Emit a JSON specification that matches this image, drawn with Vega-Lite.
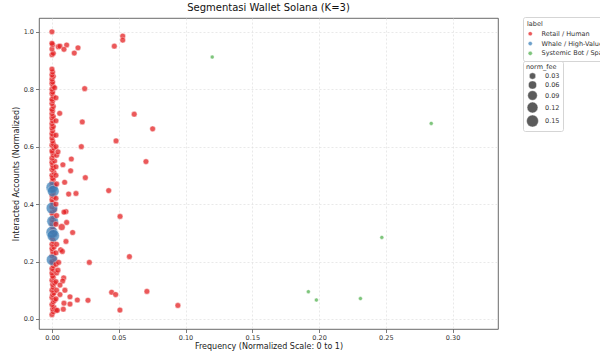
{
  "$schema": "https://vega.github.io/schema/vega-lite/v6.json",
  "width": 459,
  "height": 311,
  "autosize": {"type": "none"},
  "padding": {"left": 39, "top": 18, "right": 102, "bottom": 24},
  "background": "white",
  "title": {"text": "Segmentasi Wallet Solana (K=3)", "fontSize": 10, "fontWeight": "normal", "color": "#111", "offset": 4},
  "config": {
    "font": "DejaVu Sans",
    "view": {"stroke": "#444", "strokeWidth": 0.8},
    "axis": {"labelFontSize": 6.5, "titleFontSize": 8, "titleFontWeight": "normal", "labelColor": "#333", "titleColor": "#222", "gridColor": "#e0e0e0", "gridDash": [2, 2], "gridWidth": 0.7, "tickColor": "#444", "tickSize": 3.5, "tickWidth": 0.7, "domain": false, "labelPadding": 2}
  },
  "data": {"values": [
    {"freq": 0.0, "acc": 0.015, "label": "Retail / Human", "norm_fee": 0.02},
    {"freq": 0.001, "acc": 0.025, "label": "Retail / Human", "norm_fee": 0.02},
    {"freq": 0.0005, "acc": 0.035, "label": "Retail / Human", "norm_fee": 0.02},
    {"freq": 0.0015, "acc": 0.04, "label": "Retail / Human", "norm_fee": 0.02},
    {"freq": 0.0, "acc": 0.05, "label": "Retail / Human", "norm_fee": 0.02},
    {"freq": 0.001, "acc": 0.06, "label": "Retail / Human", "norm_fee": 0.02},
    {"freq": 0.002, "acc": 0.065, "label": "Retail / Human", "norm_fee": 0.02},
    {"freq": 0.0, "acc": 0.075, "label": "Retail / Human", "norm_fee": 0.02},
    {"freq": 0.0005, "acc": 0.085, "label": "Retail / Human", "norm_fee": 0.02},
    {"freq": 0.0015, "acc": 0.09, "label": "Retail / Human", "norm_fee": 0.02},
    {"freq": 0.0, "acc": 0.1, "label": "Retail / Human", "norm_fee": 0.02},
    {"freq": 0.001, "acc": 0.11, "label": "Retail / Human", "norm_fee": 0.02},
    {"freq": 0.0005, "acc": 0.12, "label": "Retail / Human", "norm_fee": 0.02},
    {"freq": 0.002, "acc": 0.125, "label": "Retail / Human", "norm_fee": 0.02},
    {"freq": 0.0, "acc": 0.135, "label": "Retail / Human", "norm_fee": 0.02},
    {"freq": 0.001, "acc": 0.145, "label": "Retail / Human", "norm_fee": 0.02},
    {"freq": 0.0005, "acc": 0.15, "label": "Retail / Human", "norm_fee": 0.02},
    {"freq": 0.0, "acc": 0.16, "label": "Retail / Human", "norm_fee": 0.02},
    {"freq": 0.0015, "acc": 0.17, "label": "Retail / Human", "norm_fee": 0.02},
    {"freq": 0.0, "acc": 0.175, "label": "Retail / Human", "norm_fee": 0.02},
    {"freq": 0.001, "acc": 0.185, "label": "Retail / Human", "norm_fee": 0.02},
    {"freq": 0.0005, "acc": 0.195, "label": "Retail / Human", "norm_fee": 0.02},
    {"freq": 0.0, "acc": 0.2, "label": "Retail / Human", "norm_fee": 0.02},
    {"freq": 0.002, "acc": 0.21, "label": "Retail / Human", "norm_fee": 0.02},
    {"freq": 0.0, "acc": 0.22, "label": "Retail / Human", "norm_fee": 0.02},
    {"freq": 0.001, "acc": 0.225, "label": "Retail / Human", "norm_fee": 0.02},
    {"freq": 0.0005, "acc": 0.235, "label": "Retail / Human", "norm_fee": 0.02},
    {"freq": 0.0, "acc": 0.245, "label": "Retail / Human", "norm_fee": 0.02},
    {"freq": 0.0015, "acc": 0.25, "label": "Retail / Human", "norm_fee": 0.02},
    {"freq": 0.0, "acc": 0.26, "label": "Retail / Human", "norm_fee": 0.02},
    {"freq": 0.001, "acc": 0.27, "label": "Retail / Human", "norm_fee": 0.02},
    {"freq": 0.0005, "acc": 0.28, "label": "Retail / Human", "norm_fee": 0.02},
    {"freq": 0.0, "acc": 0.285, "label": "Retail / Human", "norm_fee": 0.02},
    {"freq": 0.002, "acc": 0.295, "label": "Retail / Human", "norm_fee": 0.02},
    {"freq": 0.0, "acc": 0.305, "label": "Retail / Human", "norm_fee": 0.02},
    {"freq": 0.001, "acc": 0.31, "label": "Retail / Human", "norm_fee": 0.02},
    {"freq": 0.0005, "acc": 0.32, "label": "Retail / Human", "norm_fee": 0.02},
    {"freq": 0.0, "acc": 0.33, "label": "Retail / Human", "norm_fee": 0.02},
    {"freq": 0.0015, "acc": 0.34, "label": "Retail / Human", "norm_fee": 0.02},
    {"freq": 0.0, "acc": 0.345, "label": "Retail / Human", "norm_fee": 0.02},
    {"freq": 0.001, "acc": 0.355, "label": "Retail / Human", "norm_fee": 0.02},
    {"freq": 0.0005, "acc": 0.365, "label": "Retail / Human", "norm_fee": 0.02},
    {"freq": 0.0, "acc": 0.37, "label": "Retail / Human", "norm_fee": 0.02},
    {"freq": 0.002, "acc": 0.38, "label": "Retail / Human", "norm_fee": 0.02},
    {"freq": 0.0, "acc": 0.39, "label": "Retail / Human", "norm_fee": 0.02},
    {"freq": 0.001, "acc": 0.4, "label": "Retail / Human", "norm_fee": 0.02},
    {"freq": 0.0005, "acc": 0.405, "label": "Retail / Human", "norm_fee": 0.02},
    {"freq": 0.0, "acc": 0.415, "label": "Retail / Human", "norm_fee": 0.02},
    {"freq": 0.0015, "acc": 0.425, "label": "Retail / Human", "norm_fee": 0.02},
    {"freq": 0.0, "acc": 0.43, "label": "Retail / Human", "norm_fee": 0.02},
    {"freq": 0.001, "acc": 0.44, "label": "Retail / Human", "norm_fee": 0.02},
    {"freq": 0.0005, "acc": 0.45, "label": "Retail / Human", "norm_fee": 0.02},
    {"freq": 0.0, "acc": 0.46, "label": "Retail / Human", "norm_fee": 0.02},
    {"freq": 0.002, "acc": 0.465, "label": "Retail / Human", "norm_fee": 0.02},
    {"freq": 0.0, "acc": 0.475, "label": "Retail / Human", "norm_fee": 0.02},
    {"freq": 0.001, "acc": 0.485, "label": "Retail / Human", "norm_fee": 0.02},
    {"freq": 0.0005, "acc": 0.49, "label": "Retail / Human", "norm_fee": 0.02},
    {"freq": 0.0, "acc": 0.5, "label": "Retail / Human", "norm_fee": 0.02},
    {"freq": 0.0015, "acc": 0.51, "label": "Retail / Human", "norm_fee": 0.02},
    {"freq": 0.0, "acc": 0.52, "label": "Retail / Human", "norm_fee": 0.02},
    {"freq": 0.001, "acc": 0.525, "label": "Retail / Human", "norm_fee": 0.02},
    {"freq": 0.0005, "acc": 0.535, "label": "Retail / Human", "norm_fee": 0.02},
    {"freq": 0.0, "acc": 0.545, "label": "Retail / Human", "norm_fee": 0.02},
    {"freq": 0.002, "acc": 0.55, "label": "Retail / Human", "norm_fee": 0.02},
    {"freq": 0.0, "acc": 0.56, "label": "Retail / Human", "norm_fee": 0.02},
    {"freq": 0.001, "acc": 0.57, "label": "Retail / Human", "norm_fee": 0.02},
    {"freq": 0.0005, "acc": 0.58, "label": "Retail / Human", "norm_fee": 0.02},
    {"freq": 0.0, "acc": 0.585, "label": "Retail / Human", "norm_fee": 0.02},
    {"freq": 0.0015, "acc": 0.595, "label": "Retail / Human", "norm_fee": 0.02},
    {"freq": 0.0, "acc": 0.605, "label": "Retail / Human", "norm_fee": 0.02},
    {"freq": 0.001, "acc": 0.61, "label": "Retail / Human", "norm_fee": 0.02},
    {"freq": 0.0005, "acc": 0.62, "label": "Retail / Human", "norm_fee": 0.02},
    {"freq": 0.0, "acc": 0.63, "label": "Retail / Human", "norm_fee": 0.02},
    {"freq": 0.001, "acc": 0.64, "label": "Retail / Human", "norm_fee": 0.02},
    {"freq": 0.0, "acc": 0.645, "label": "Retail / Human", "norm_fee": 0.02},
    {"freq": 0.0005, "acc": 0.655, "label": "Retail / Human", "norm_fee": 0.02},
    {"freq": 0.0, "acc": 0.665, "label": "Retail / Human", "norm_fee": 0.02},
    {"freq": 0.001, "acc": 0.67, "label": "Retail / Human", "norm_fee": 0.02},
    {"freq": 0.0, "acc": 0.68, "label": "Retail / Human", "norm_fee": 0.02},
    {"freq": 0.0005, "acc": 0.69, "label": "Retail / Human", "norm_fee": 0.02},
    {"freq": 0.0, "acc": 0.7, "label": "Retail / Human", "norm_fee": 0.02},
    {"freq": 0.001, "acc": 0.705, "label": "Retail / Human", "norm_fee": 0.02},
    {"freq": 0.0, "acc": 0.715, "label": "Retail / Human", "norm_fee": 0.02},
    {"freq": 0.0005, "acc": 0.725, "label": "Retail / Human", "norm_fee": 0.02},
    {"freq": 0.0, "acc": 0.73, "label": "Retail / Human", "norm_fee": 0.02},
    {"freq": 0.001, "acc": 0.74, "label": "Retail / Human", "norm_fee": 0.02},
    {"freq": 0.0, "acc": 0.75, "label": "Retail / Human", "norm_fee": 0.02},
    {"freq": 0.0005, "acc": 0.76, "label": "Retail / Human", "norm_fee": 0.02},
    {"freq": 0.0, "acc": 0.765, "label": "Retail / Human", "norm_fee": 0.02},
    {"freq": 0.001, "acc": 0.775, "label": "Retail / Human", "norm_fee": 0.02},
    {"freq": 0.0, "acc": 0.785, "label": "Retail / Human", "norm_fee": 0.02},
    {"freq": 0.0005, "acc": 0.79, "label": "Retail / Human", "norm_fee": 0.02},
    {"freq": 0.0, "acc": 0.8, "label": "Retail / Human", "norm_fee": 0.02},
    {"freq": 0.001, "acc": 0.81, "label": "Retail / Human", "norm_fee": 0.02},
    {"freq": 0.0, "acc": 0.82, "label": "Retail / Human", "norm_fee": 0.02},
    {"freq": 0.0005, "acc": 0.825, "label": "Retail / Human", "norm_fee": 0.02},
    {"freq": 0.0, "acc": 0.835, "label": "Retail / Human", "norm_fee": 0.02},
    {"freq": 0.001, "acc": 0.845, "label": "Retail / Human", "norm_fee": 0.02},
    {"freq": 0.0, "acc": 0.85, "label": "Retail / Human", "norm_fee": 0.02},
    {"freq": 0.0005, "acc": 0.86, "label": "Retail / Human", "norm_fee": 0.02},
    {"freq": 0.0, "acc": 0.87, "label": "Retail / Human", "norm_fee": 0.02},
    {"freq": 0.0, "acc": 0.92, "label": "Retail / Human", "norm_fee": 0.02},
    {"freq": 0.001, "acc": 0.925, "label": "Retail / Human", "norm_fee": 0.02},
    {"freq": 0.0, "acc": 0.94, "label": "Retail / Human", "norm_fee": 0.02},
    {"freq": 0.0005, "acc": 0.955, "label": "Retail / Human", "norm_fee": 0.02},
    {"freq": 0.0, "acc": 0.96, "label": "Retail / Human", "norm_fee": 0.02},
    {"freq": 0.0, "acc": 1.0, "label": "Retail / Human", "norm_fee": 0.02},
    {"freq": 0.0, "acc": 0.458, "label": "Whale / High-Value", "norm_fee": 0.15},
    {"freq": 0.001, "acc": 0.445, "label": "Whale / High-Value", "norm_fee": 0.145},
    {"freq": 0.0, "acc": 0.386, "label": "Whale / High-Value", "norm_fee": 0.14},
    {"freq": 0.0005, "acc": 0.34, "label": "Whale / High-Value", "norm_fee": 0.14},
    {"freq": 0.0, "acc": 0.302, "label": "Whale / High-Value", "norm_fee": 0.15},
    {"freq": 0.001, "acc": 0.29, "label": "Whale / High-Value", "norm_fee": 0.16},
    {"freq": 0.0, "acc": 0.206, "label": "Whale / High-Value", "norm_fee": 0.13},
    {"freq": 0.003, "acc": 0.03, "label": "Retail / Human", "norm_fee": 0.02},
    {"freq": 0.003, "acc": 0.07, "label": "Retail / Human", "norm_fee": 0.02},
    {"freq": 0.0035, "acc": 0.1, "label": "Retail / Human", "norm_fee": 0.02},
    {"freq": 0.003, "acc": 0.13, "label": "Retail / Human", "norm_fee": 0.02},
    {"freq": 0.0035, "acc": 0.16, "label": "Retail / Human", "norm_fee": 0.02},
    {"freq": 0.003, "acc": 0.19, "label": "Retail / Human", "norm_fee": 0.02},
    {"freq": 0.003, "acc": 0.23, "label": "Retail / Human", "norm_fee": 0.02},
    {"freq": 0.0035, "acc": 0.26, "label": "Retail / Human", "norm_fee": 0.02},
    {"freq": 0.003, "acc": 0.33, "label": "Retail / Human", "norm_fee": 0.02},
    {"freq": 0.0035, "acc": 0.36, "label": "Retail / Human", "norm_fee": 0.02},
    {"freq": 0.003, "acc": 0.4, "label": "Retail / Human", "norm_fee": 0.02},
    {"freq": 0.003, "acc": 0.42, "label": "Retail / Human", "norm_fee": 0.02},
    {"freq": 0.0035, "acc": 0.47, "label": "Retail / Human", "norm_fee": 0.02},
    {"freq": 0.003, "acc": 0.5, "label": "Retail / Human", "norm_fee": 0.02},
    {"freq": 0.003, "acc": 0.53, "label": "Retail / Human", "norm_fee": 0.02},
    {"freq": 0.0035, "acc": 0.57, "label": "Retail / Human", "norm_fee": 0.02},
    {"freq": 0.003, "acc": 0.6, "label": "Retail / Human", "norm_fee": 0.02},
    {"freq": 0.003, "acc": 0.64, "label": "Retail / Human", "norm_fee": 0.02},
    {"freq": 0.003, "acc": 0.69, "label": "Retail / Human", "norm_fee": 0.02},
    {"freq": 0.003, "acc": 0.77, "label": "Retail / Human", "norm_fee": 0.02},
    {"freq": 0.002, "acc": 0.805, "label": "Retail / Human", "norm_fee": 0.02},
    {"freq": 0.0047, "acc": 0.948, "label": "Retail / Human", "norm_fee": 0.02},
    {"freq": 0.006, "acc": 0.95, "label": "Retail / Human", "norm_fee": 0.02},
    {"freq": 0.011, "acc": 0.954, "label": "Retail / Human", "norm_fee": 0.02},
    {"freq": 0.009, "acc": 0.939, "label": "Retail / Human", "norm_fee": 0.02},
    {"freq": 0.0167, "acc": 0.926, "label": "Retail / Human", "norm_fee": 0.02},
    {"freq": 0.0195, "acc": 0.944, "label": "Retail / Human", "norm_fee": 0.02},
    {"freq": 0.053, "acc": 0.985, "label": "Retail / Human", "norm_fee": 0.02},
    {"freq": 0.053, "acc": 0.971, "label": "Retail / Human", "norm_fee": 0.02},
    {"freq": 0.0467, "acc": 0.95, "label": "Retail / Human", "norm_fee": 0.02},
    {"freq": 0.0245, "acc": 0.802, "label": "Retail / Human", "norm_fee": 0.02},
    {"freq": 0.0058, "acc": 0.716, "label": "Retail / Human", "norm_fee": 0.02},
    {"freq": 0.0227, "acc": 0.686, "label": "Retail / Human", "norm_fee": 0.02},
    {"freq": 0.022, "acc": 0.6, "label": "Retail / Human", "norm_fee": 0.02},
    {"freq": 0.0145, "acc": 0.557, "label": "Retail / Human", "norm_fee": 0.02},
    {"freq": 0.014, "acc": 0.516, "label": "Retail / Human", "norm_fee": 0.02},
    {"freq": 0.025, "acc": 0.492, "label": "Retail / Human", "norm_fee": 0.02},
    {"freq": 0.0095, "acc": 0.476, "label": "Retail / Human", "norm_fee": 0.02},
    {"freq": 0.0082, "acc": 0.537, "label": "Retail / Human", "norm_fee": 0.02},
    {"freq": 0.0045, "acc": 0.582, "label": "Retail / Human", "norm_fee": 0.02},
    {"freq": 0.0125, "acc": 0.435, "label": "Retail / Human", "norm_fee": 0.02},
    {"freq": 0.018, "acc": 0.437, "label": "Retail / Human", "norm_fee": 0.02},
    {"freq": 0.0425, "acc": 0.447, "label": "Retail / Human", "norm_fee": 0.02},
    {"freq": 0.048, "acc": 0.62, "label": "Retail / Human", "norm_fee": 0.02},
    {"freq": 0.0616, "acc": 0.713, "label": "Retail / Human", "norm_fee": 0.02},
    {"freq": 0.0754, "acc": 0.662, "label": "Retail / Human", "norm_fee": 0.02},
    {"freq": 0.0704, "acc": 0.548, "label": "Retail / Human", "norm_fee": 0.02},
    {"freq": 0.051, "acc": 0.357, "label": "Retail / Human", "norm_fee": 0.02},
    {"freq": 0.058, "acc": 0.217, "label": "Retail / Human", "norm_fee": 0.02},
    {"freq": 0.0105, "acc": 0.374, "label": "Retail / Human", "norm_fee": 0.02},
    {"freq": 0.009, "acc": 0.372, "label": "Retail / Human", "norm_fee": 0.02},
    {"freq": 0.011, "acc": 0.336, "label": "Retail / Human", "norm_fee": 0.02},
    {"freq": 0.0073, "acc": 0.32, "label": "Retail / Human", "norm_fee": 0.04},
    {"freq": 0.0155, "acc": 0.301, "label": "Retail / Human", "norm_fee": 0.02},
    {"freq": 0.0105, "acc": 0.27, "label": "Retail / Human", "norm_fee": 0.02},
    {"freq": 0.0065, "acc": 0.241, "label": "Retail / Human", "norm_fee": 0.02},
    {"freq": 0.0078, "acc": 0.235, "label": "Retail / Human", "norm_fee": 0.02},
    {"freq": 0.028, "acc": 0.197, "label": "Retail / Human", "norm_fee": 0.02},
    {"freq": 0.005, "acc": 0.197, "label": "Retail / Human", "norm_fee": 0.02},
    {"freq": 0.0045, "acc": 0.17, "label": "Retail / Human", "norm_fee": 0.02},
    {"freq": 0.0088, "acc": 0.143, "label": "Retail / Human", "norm_fee": 0.02},
    {"freq": 0.008, "acc": 0.132, "label": "Retail / Human", "norm_fee": 0.02},
    {"freq": 0.006, "acc": 0.118, "label": "Retail / Human", "norm_fee": 0.02},
    {"freq": 0.0097, "acc": 0.1, "label": "Retail / Human", "norm_fee": 0.02},
    {"freq": 0.006, "acc": 0.085, "label": "Retail / Human", "norm_fee": 0.02},
    {"freq": 0.0135, "acc": 0.077, "label": "Retail / Human", "norm_fee": 0.02},
    {"freq": 0.019, "acc": 0.066, "label": "Retail / Human", "norm_fee": 0.02},
    {"freq": 0.027, "acc": 0.065, "label": "Retail / Human", "norm_fee": 0.02},
    {"freq": 0.009, "acc": 0.055, "label": "Retail / Human", "norm_fee": 0.02},
    {"freq": 0.0135, "acc": 0.052, "label": "Retail / Human", "norm_fee": 0.02},
    {"freq": 0.0085, "acc": 0.034, "label": "Retail / Human", "norm_fee": 0.02},
    {"freq": 0.004, "acc": 0.03, "label": "Retail / Human", "norm_fee": 0.02},
    {"freq": 0.0447, "acc": 0.093, "label": "Retail / Human", "norm_fee": 0.02},
    {"freq": 0.0477, "acc": 0.085, "label": "Retail / Human", "norm_fee": 0.02},
    {"freq": 0.0711, "acc": 0.096, "label": "Retail / Human", "norm_fee": 0.02},
    {"freq": 0.0509, "acc": 0.031, "label": "Retail / Human", "norm_fee": 0.02},
    {"freq": 0.0943, "acc": 0.047, "label": "Retail / Human", "norm_fee": 0.02},
    {"freq": 0.12, "acc": 0.912, "label": "Systemic Bot / Spam", "norm_fee": 0.0},
    {"freq": 0.284, "acc": 0.681, "label": "Systemic Bot / Spam", "norm_fee": 0.0},
    {"freq": 0.247, "acc": 0.284, "label": "Systemic Bot / Spam", "norm_fee": 0.0},
    {"freq": 0.192, "acc": 0.095, "label": "Systemic Bot / Spam", "norm_fee": 0.0},
    {"freq": 0.198, "acc": 0.066, "label": "Systemic Bot / Spam", "norm_fee": 0.0},
    {"freq": 0.231, "acc": 0.071, "label": "Systemic Bot / Spam", "norm_fee": 0.0}
  ]},
  "mark": {"type": "point", "filled": true, "opacity": 0.72, "stroke": "white", "strokeWidth": 0.5, "strokeOpacity": 0.9},
  "encoding": {
    "x": {"field": "freq", "type": "quantitative", "title": "Frequency (Normalized Scale: 0 to 1)",
      "scale": {"domain": [-0.0097, 0.334], "nice": false, "zero": false},
      "axis": {"values": [0, 0.05, 0.1, 0.15, 0.2, 0.25, 0.3], "format": ".2f", "titlePadding": 1}},
    "y": {"field": "acc", "type": "quantitative", "title": "Interacted Accounts (Normalized)",
      "scale": {"domain": [-0.035, 1.048], "nice": false, "zero": false},
      "axis": {"values": [0, 0.2, 0.4, 0.6, 0.8, 1.0], "format": ".1f", "titlePadding": 3}},
    "color": {"field": "label", "type": "nominal",
      "scale": {"domain": ["Retail / Human", "Whale / High-Value", "Systemic Bot / Spam"], "range": ["#e41a1c", "#377eb8", "#4daf4a"]},
      "legend": {"orient": "none", "legendX": 484, "legendY": -1, "title": "label", "titleFontSize": 6.5, "titleFontWeight": "normal", "titleColor": "#333", "labelFontSize": 6.5, "labelColor": "#333", "labelOffset": 8, "symbolSize": 18, "symbolType": "circle", "rowPadding": 2.8, "padding": 4, "titlePadding": 3, "strokeColor": "#d5d5d5", "cornerRadius": 2, "symbolStrokeColor": "white", "symbolStrokeWidth": 0.4}},
    "size": {"field": "norm_fee", "type": "quantitative",
      "scale": {"domain": [0, 0.16], "range": [16, 150]},
      "legend": {"orient": "none", "legendX": 484, "legendY": 43, "title": "norm_fee", "values": [0.03, 0.06, 0.09, 0.12, 0.15], "titleFontSize": 6.5, "titleFontWeight": "normal", "titleColor": "#333", "labelFontSize": 6.5, "labelColor": "#333", "labelOffset": 6, "symbolFillColor": "#4a4a4a", "symbolStrokeColor": "white", "symbolStrokeWidth": 0.4, "symbolOpacity": 0.9, "symbolType": "circle", "rowPadding": -1, "padding": 3, "titlePadding": 2, "strokeColor": "#d5d5d5", "cornerRadius": 2}}
  }
}
